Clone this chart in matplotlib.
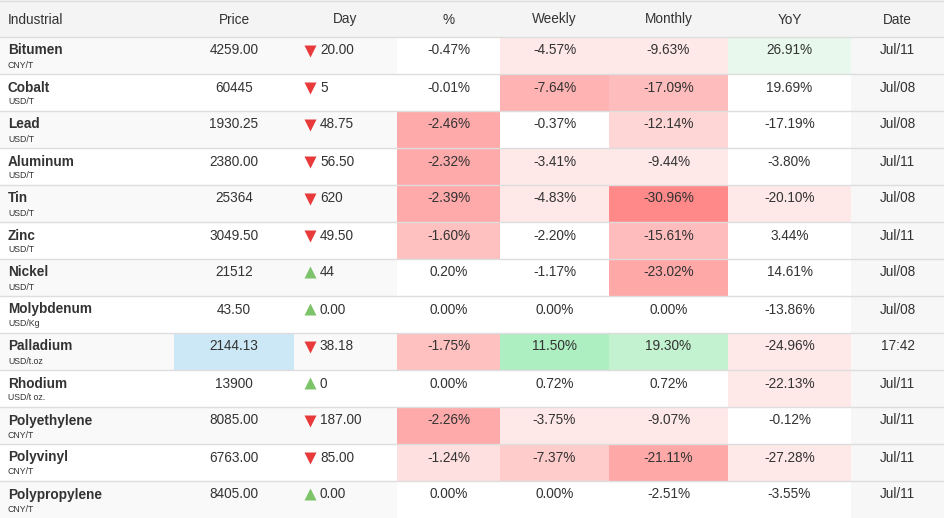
import matplotlib
matplotlib.use("Agg")
import matplotlib.pyplot as plt
from matplotlib.patches import Rectangle

names = ["Bitumen","Cobalt","Lead","Aluminum","Tin","Zinc","Nickel","Molybdenum","Palladium","Rhodium","Polyethylene","Polyvinyl","Polypropylene"]
units = ["CNY/T","USD/T","USD/T","USD/T","USD/T","USD/T","USD/T","USD/Kg","USD/t.oz","USD/t oz.","CNY/T","CNY/T","CNY/T"]
prices = ["4259.00","60445","1930.25","2380.00","25364","3049.50","21512","43.50","2144.13","13900","8085.00","6763.00","8405.00"]
day_change = ["20.00","5","48.75","56.50","620","49.50","44","0.00","38.18","0","187.00","85.00","0.00"]
day_up = [False,False,False,False,False,False,True,True,False,True,False,False,True]
pct = [-0.47,-0.01,-2.46,-2.32,-2.39,-1.60,0.20,0.00,-1.75,0.00,-2.26,-1.24,0.00]
weekly = [-4.57,-7.64,-0.37,-3.41,-4.83,-2.20,-1.17,0.00,11.50,0.72,-3.75,-7.37,0.00]
monthly = [-9.63,-17.09,-12.14,-9.44,-30.96,-15.61,-23.02,0.00,19.30,0.72,-9.07,-21.11,-2.51]
yoy = [26.91,19.69,-17.19,-3.80,-20.10,3.44,14.61,-13.86,-24.96,-22.13,-0.12,-27.28,-3.55]
dates = ["Jul/11","Jul/08","Jul/08","Jul/11","Jul/08","Jul/11","Jul/08","Jul/08","17:42","Jul/11","Jul/11","Jul/11","Jul/11"]
headers = ["Industrial","Price","Day","%","Weekly","Monthly","YoY","Date"]

W, H = 944, 518
edges = [0,174,294,397,500,609,728,851,944]
RH = 37.0

def neg_color(v, th, cols):
    a = abs(v)
    c = None
    for t, col in zip(th, cols):
        if a >= t:
            c = col
    return c

def col_pct(v):
    if v < 0:
        return neg_color(v, [1.0,1.5,2.0], ["#ffe0e0","#ffc0c0","#ffaaaa"])
    return None
def col_week(v):
    if v > 10: return "#aeefc2"
    if v < 0:
        return neg_color(v, [3,5,7.5], ["#ffe8e8","#ffcccc","#ffb3b3"])
    return None
def col_month(v):
    if v > 15: return "#c2f2cf"
    if v < 0:
        return neg_color(v, [5,10,15,20,25], ["#ffe8e8","#ffd6d6","#ffbcbc","#ffa8a8","#ff8888"])
    return None
def col_yoy(v):
    if v > 20: return "#e8f8ec"
    if v < 0:
        return neg_color(v, [20], ["#ffe8e8"])
    return None

fig = plt.figure(figsize=(W/100, H/100), dpi=100)
ax = fig.add_axes([0,0,1,1])
ax.set_xlim(0, W); ax.set_ylim(H, 0); ax.axis("off")
FONT = "Liberation Sans"
TC = "#333333"
fs = 9.8

ax.add_patch(Rectangle((0,0), W, RH, color="#f4f4f4", lw=0))
centers = [(edges[i]+edges[i+1])/2 for i in range(8)]
for i, h in enumerate(headers):
    if i == 0:
        ax.text(8, 19.5, h, ha="left", va="center", fontsize=fs, family=FONT, color=TC)
    else:
        ax.text(centers[i], 19.5, h, ha="center", va="center", fontsize=fs, family=FONT, color=TC)

for r in range(len(names)):
    top = RH*(r+1)
    bg = "#f9f9f9" if r % 2 == 0 else "#ffffff"
    ax.add_patch(Rectangle((0, top), W, RH, color=bg, lw=0))
    ax.add_patch(Rectangle((edges[3], top), edges[7]-edges[3], RH, color="#ffffff", lw=0))
    ax.add_patch(Rectangle((edges[7], top), edges[8]-edges[7], RH, color="#f7f7f7", lw=0))
    if names[r] == "Palladium":
        ax.add_patch(Rectangle((edges[1], top), edges[2]-edges[1], RH, color="#cce8f6", lw=0))
    for ci, (vals, fn) in enumerate([(pct,col_pct),(weekly,col_week),(monthly,col_month),(yoy,col_yoy)]):
        c = fn(vals[r])
        if c:
            ax.add_patch(Rectangle((edges[3+ci], top), edges[4+ci]-edges[3+ci], RH, color=c, lw=0))
    ax.plot([0, W], [top, top], color="#dddddd", lw=1)
    ty = top + 13.5
    ax.text(8, ty, names[r], ha="left", va="center", fontsize=fs, family=FONT, weight="bold", color=TC)
    ax.text(8, top + 28, units[r], ha="left", va="center", fontsize=6.3, family=FONT, color=TC)
    ax.text(centers[1], ty, prices[r], ha="center", va="center", fontsize=fs, family=FONT, color=TC)
    if day_up[r]:
        ax.plot(310, ty-1, marker="^", ms=9, color="#7cc36a", mec="none")
    else:
        ax.plot(310, ty, marker="v", ms=9, color="#e83a3a", mec="none")
    ax.text(320, ty, day_change[r], ha="left", va="center", fontsize=fs, family=FONT, color=TC)
    for ci, vals in enumerate([pct, weekly, monthly, yoy]):
        ax.text(centers[3+ci], ty, f"{vals[r]:.2f}%", ha="center", va="center", fontsize=fs, family=FONT, color=TC)
    ax.text(centers[7], ty, dates[r], ha="center", va="center", fontsize=fs, family=FONT, color=TC)

ax.plot([0, W], [0.5, 0.5], color="#dddddd", lw=1)
fig.savefig("out.png", dpi=100)
